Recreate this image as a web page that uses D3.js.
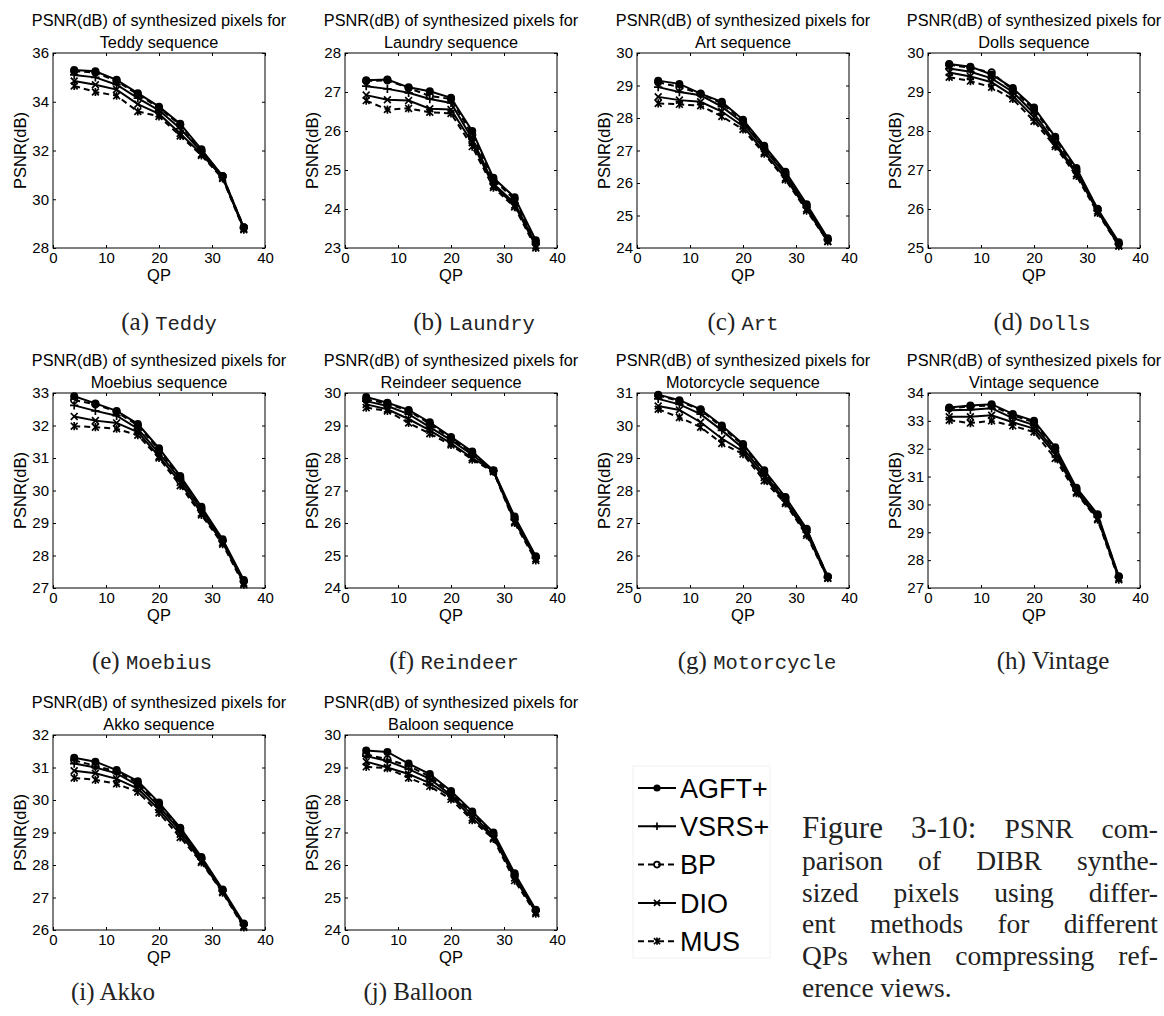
<!DOCTYPE html>
<html><head><meta charset="utf-8">
<script src="https://cdn.jsdelivr.net/npm/d3@7"></script>
<style>body{margin:0;background:#fff}</style>
</head><body><svg id="fig" width="1164" height="1016" xmlns="http://www.w3.org/2000/svg"></svg>
<script>
// ---------- data ----------
const qp = [4, 8, 12, 16, 20, 24, 28, 32, 36];
const xTicks = [0, 10, 20, 30, 40];
const methods = ["AGFT+", "VSRS+", "BP", "DIO", "MUS"];
const titleNames = ["Teddy", "Laundry", "Art", "Dolls", "Moebius", "Reindeer", "Motorcycle", "Vintage", "Akko", "Baloon"];
const captionLabels = ["(a)", "(b)", "(c)", "(d)", "(e)", "(f)", "(g)", "(h)", "(i)", "(j)"];
const captionNames = ["Teddy", "Laundry", "Art", "Dolls", "Moebius", "Reindeer", "Motorcycle", "Vintage", "Akko", "Balloon"];
const captionMono = [true, true, true, true, true, true, true, false, false, false];
const yDomains = [[28, 36], [23, 28], [24, 30], [25, 30], [27, 33], [24, 30], [25, 31], [27, 34], [26, 32], [24, 30]];
const yTickLists = [
  [28, 30, 32, 34, 36], [23, 24, 25, 26, 27, 28], [24, 25, 26, 27, 28, 29, 30], [25, 26, 27, 28, 29, 30],
  [27, 28, 29, 30, 31, 32, 33], [24, 25, 26, 27, 28, 29, 30], [25, 26, 27, 28, 29, 30, 31],
  [27, 28, 29, 30, 31, 32, 33, 34], [26, 27, 28, 29, 30, 31, 32], [24, 25, 26, 27, 28, 29, 30]
];
// series order: AGFT+, VSRS+, BP, DIO, MUS
const teddy = [
  [35.30, 35.25, 34.90, 34.35, 33.80, 33.10, 32.05, 30.95, 28.85],
  [35.10, 35.00, 34.70, 34.15, 33.65, 32.90, 31.95, 30.90, 28.80],
  [35.25, 35.20, 34.85, 34.30, 33.75, 33.05, 32.00, 30.95, 28.85],
  [34.85, 34.70, 34.50, 33.90, 33.50, 32.70, 31.85, 30.90, 28.80],
  [34.65, 34.40, 34.25, 33.60, 33.40, 32.60, 31.80, 30.85, 28.75]
];
const laundry = [
  [27.30, 27.32, 27.12, 27.02, 26.85, 26.00, 24.80, 24.30, 23.20],
  [27.15, 27.08, 26.98, 26.82, 26.72, 25.80, 24.65, 24.15, 23.10],
  [27.28, 27.30, 27.10, 26.90, 26.82, 25.90, 24.75, 24.25, 23.15],
  [26.92, 26.80, 26.78, 26.57, 26.55, 25.70, 24.60, 24.10, 23.05],
  [26.78, 26.55, 26.58, 26.48, 26.45, 25.60, 24.55, 24.05, 23.00]
];
const art = [
  [29.15, 29.05, 28.75, 28.50, 27.95, 27.15, 26.35, 25.35, 24.30],
  [28.95, 28.80, 28.70, 28.35, 27.85, 27.05, 26.25, 25.25, 24.25],
  [29.10, 28.95, 28.75, 28.45, 27.90, 27.10, 26.30, 25.30, 24.25],
  [28.65, 28.55, 28.50, 28.20, 27.75, 26.95, 26.15, 25.20, 24.20],
  [28.45, 28.42, 28.38, 28.05, 27.65, 26.90, 26.10, 25.15, 24.20]
];
const dolls = [
  [29.72, 29.65, 29.45, 29.10, 28.60, 27.85, 27.05, 26.00, 25.15],
  [29.60, 29.52, 29.35, 29.00, 28.45, 27.70, 26.95, 25.95, 25.10],
  [29.70, 29.62, 29.50, 29.05, 28.55, 27.80, 27.00, 26.00, 25.10],
  [29.50, 29.40, 29.25, 28.90, 28.35, 27.65, 26.90, 25.95, 25.05],
  [29.38, 29.28, 29.12, 28.82, 28.25, 27.60, 26.85, 25.90, 25.05]
];
const moebius = [
  [32.90, 32.68, 32.45, 32.05, 31.30, 30.45, 29.50, 28.50, 27.25],
  [32.62, 32.45, 32.30, 31.90, 31.15, 30.35, 29.40, 28.45, 27.20],
  [32.78, 32.65, 32.42, 32.00, 31.25, 30.40, 29.45, 28.45, 27.20],
  [32.28, 32.15, 32.08, 31.80, 31.05, 30.25, 29.30, 28.40, 27.15],
  [31.98, 31.95, 31.90, 31.70, 31.00, 30.15, 29.25, 28.35, 27.10]
];
const reindeer = [
  [29.88, 29.70, 29.48, 29.10, 28.65, 28.20, 27.62, 26.20, 24.98],
  [29.75, 29.60, 29.35, 28.95, 28.55, 28.10, 27.60, 26.10, 24.92],
  [29.80, 29.68, 29.45, 29.05, 28.60, 28.15, 27.60, 26.15, 24.95],
  [29.65, 29.50, 29.20, 28.85, 28.45, 28.00, 27.60, 26.05, 24.90],
  [29.55, 29.45, 29.08, 28.75, 28.40, 27.95, 27.58, 26.00, 24.85]
];
const motorcycle = [
  [30.95, 30.78, 30.50, 30.00, 29.43, 28.62, 27.80, 26.82, 25.35],
  [30.82, 30.65, 30.35, 29.85, 29.30, 28.50, 27.70, 26.72, 25.32],
  [30.92, 30.75, 30.48, 29.95, 29.40, 28.58, 27.78, 26.80, 25.35],
  [30.60, 30.48, 30.10, 29.60, 29.20, 28.40, 27.65, 26.68, 25.30],
  [30.50, 30.25, 29.95, 29.45, 29.12, 28.30, 27.60, 26.62, 25.30]
];
const vintage = [
  [33.48, 33.55, 33.60, 33.25, 33.00, 32.05, 30.60, 29.65, 27.42],
  [33.38, 33.40, 33.45, 33.10, 32.85, 31.90, 30.50, 29.55, 27.38],
  [33.45, 33.52, 33.55, 33.20, 32.95, 32.00, 30.55, 29.60, 27.40],
  [33.15, 33.15, 33.20, 32.95, 32.72, 31.80, 30.45, 29.50, 27.35],
  [33.02, 32.92, 33.00, 32.82, 32.60, 31.65, 30.40, 29.45, 27.30]
];
const akko = [
  [31.30, 31.18, 30.92, 30.58, 29.92, 29.15, 28.25, 27.25, 26.20],
  [31.12, 31.00, 30.82, 30.45, 29.80, 29.05, 28.18, 27.20, 26.15],
  [31.22, 31.05, 30.88, 30.52, 29.88, 29.12, 28.22, 27.22, 26.18],
  [30.90, 30.82, 30.65, 30.35, 29.70, 28.95, 28.12, 27.18, 26.12],
  [30.68, 30.62, 30.50, 30.25, 29.60, 28.85, 28.08, 27.15, 26.08]
];
const balloon = [
  [29.52, 29.48, 29.12, 28.80, 28.28, 27.65, 27.00, 25.75, 24.62],
  [29.35, 29.20, 28.95, 28.65, 28.15, 27.55, 26.90, 25.65, 24.58],
  [29.40, 29.25, 29.05, 28.72, 28.22, 27.60, 26.95, 25.70, 24.60],
  [29.18, 29.00, 28.80, 28.52, 28.10, 27.45, 26.85, 25.60, 24.55],
  [29.02, 28.98, 28.68, 28.42, 28.02, 27.38, 26.80, 25.52, 24.50]
];
const allSeries = [teddy, laundry, art, dolls, moebius, reindeer, motorcycle, vintage, akko, balloon];
const captionLines = [
  [["Figure", "L"], ["3-10:", "L"], ["PSNR", "B"], ["com-", "B"]],
  [["parison", "B"], ["of", "B"], ["DIBR", "B"], ["synthe-", "B"]],
  [["sized", "B"], ["pixels", "B"], ["using", "B"], ["differ-", "B"]],
  [["ent", "B"], ["methods", "B"], ["for", "B"], ["different", "B"]],
  [["QPs", "B"], ["when", "B"], ["compressing", "B"], ["ref-", "B"]],
  [["erence views.", "B"]]
];

// ---------- layout ----------
const svg = d3.select("#fig");
const SANS = "'Liberation Sans', Arial, sans-serif";
const SERIF = "'Liberation Serif', 'Times New Roman', serif";
const MONO = "'Liberation Mono', 'DejaVu Sans Mono', monospace";
const colLeft = [53, 345, 637, 928];
const rowTop = [53, 393, 735];
const rowBottom = [248, 588, 930];
const plotW = 212;
const capBase = [330, 669, 1000];
const capCenters = [169, 474, 743, 1042, 152, 454, 757, 1053, 113, 418];

const lineStyles = [
  { dash: null, marker: "dot" },
  { dash: null, marker: "plus" },
  { dash: "6,4", marker: "circle" },
  { dash: null, marker: "x" },
  { dash: "6,4", marker: "star" }
];

function drawMarker(g, type, cx, cy, s) {
  const k = s || 1;
  if (type === "dot") {
    g.append("circle").attr("cx", cx).attr("cy", cy).attr("r", 4 * k).attr("fill", "#000");
  } else if (type === "circle") {
    g.append("circle").attr("cx", cx).attr("cy", cy).attr("r", 3.3 * k).attr("fill", "none").attr("stroke", "#000").attr("stroke-width", 1.7);
  } else if (type === "plus") {
    const h = 4.2 * k;
    g.append("path").attr("d", `M${cx - h},${cy}H${cx + h}M${cx},${cy - h}V${cy + h}`).attr("stroke", "#000").attr("stroke-width", 1.7);
  } else if (type === "x") {
    const h = 3.4 * k;
    g.append("path").attr("d", `M${cx - h},${cy - h}L${cx + h},${cy + h}M${cx - h},${cy + h}L${cx + h},${cy - h}`).attr("stroke", "#000").attr("stroke-width", 1.7);
  } else if (type === "star") {
    const h = 3.4 * k;
    g.append("path").attr("d", `M${cx - h},${cy - h}L${cx + h},${cy + h}M${cx - h},${cy + h}L${cx + h},${cy - h}M${cx},${cy - h * 1.2}V${cy + h * 1.2}`).attr("stroke", "#000").attr("stroke-width", 1.7);
  }
}

allSeries.forEach((series, i) => {
  const row = Math.floor(i / 4), col = i % 4;
  const left = colLeft[col], right = left + plotW;
  const top = rowTop[row], bottom = rowBottom[row];
  const x = d3.scaleLinear().domain([0, 40]).range([left, right]);
  const y = d3.scaleLinear().domain(yDomains[i]).range([bottom, top]);
  const g = svg.append("g");

  g.append("rect").attr("x", left).attr("y", top).attr("width", plotW).attr("height", bottom - top)
    .attr("fill", "#fff").attr("stroke", "#000").attr("stroke-width", 1);

  const styleAxis = sel => {
    sel.select(".domain").remove();
    sel.selectAll("line").attr("stroke", "#000");
    sel.selectAll("text").attr("font-family", SANS).attr("font-size", 15).attr("fill", "#000");
  };
  const fmt = d3.format("d");
  g.append("g").attr("transform", `translate(0,${bottom})`)
    .call(d3.axisBottom(x).tickValues(xTicks).tickFormat(fmt).tickSize(-3).tickPadding(4)).call(styleAxis);
  g.append("g").attr("transform", `translate(0,${top})`)
    .call(d3.axisTop(x).tickValues(xTicks).tickSize(-3).tickFormat("")).call(styleAxis);
  g.append("g").attr("transform", `translate(${left},0)`)
    .call(d3.axisLeft(y).tickValues(yTickLists[i]).tickFormat(fmt).tickSize(-3).tickPadding(4)).call(styleAxis);
  g.append("g").attr("transform", `translate(${right},0)`)
    .call(d3.axisRight(y).tickValues(yTickLists[i]).tickSize(-3).tickFormat("")).call(styleAxis);

  g.append("text").attr("x", (left + right) / 2).attr("y", bottom + 33).attr("text-anchor", "middle")
    .attr("font-family", SANS).attr("font-size", 16.5).text("QP");
  g.append("text").attr("transform", `translate(${left - 27},${(top + bottom) / 2}) rotate(-90)`)
    .attr("text-anchor", "middle").attr("font-family", SANS).attr("font-size", 16.5).text("PSNR(dB)");
  g.append("text").attr("x", (left + right) / 2).attr("y", top - 27).attr("text-anchor", "middle")
    .attr("font-family", SANS).attr("font-size", 16.3).text("PSNR(dB) of synthesized pixels for");
  g.append("text").attr("x", (left + right) / 2).attr("y", top - 5).attr("text-anchor", "middle")
    .attr("font-family", SANS).attr("font-size", 16.3).text(titleNames[i] + " sequence");

  const line = d3.line().x((d, j) => x(qp[j])).y(d => y(d));
  for (let s = methods.length - 1; s >= 0; s--) {
    const st = lineStyles[s];
    g.append("path").datum(series[s]).attr("d", line).attr("fill", "none").attr("stroke", "#000")
      .attr("stroke-width", 2).attr("stroke-dasharray", st.dash);
    const mg = g.append("g");
    series[s].forEach((v, j) => drawMarker(mg, st.marker, x(qp[j]), y(v)));
  }

  const cap = svg.append("text").attr("x", capCenters[i]).attr("y", capBase[row]).attr("text-anchor", "middle").attr("fill", "#222");
  cap.append("tspan").attr("font-family", SERIF).attr("font-size", 25).text(captionLabels[i] + " ");
  cap.append("tspan").attr("font-family", captionMono[i] ? MONO : SERIF).attr("font-size", captionMono[i] ? 20.5 : 25).text(captionNames[i]);
});

// ---------- legend ----------
const leg = svg.append("g");
leg.append("rect").attr("x", 633).attr("y", 766).attr("width", 137).attr("height", 192)
  .attr("fill", "#fff").attr("stroke", "#f2f2f2").attr("stroke-width", 1);
methods.forEach((m, k) => {
  const cy = 788 + k * 38.3;
  const st = lineStyles[k];
  leg.append("line").attr("x1", 638).attr("x2", 676).attr("y1", cy).attr("y2", cy)
    .attr("stroke", "#000").attr("stroke-width", 2).attr("stroke-dasharray", st.dash);
  drawMarker(leg, st.marker, 657, cy, 0.9);
  leg.append("text").attr("x", 680).attr("y", cy).attr("dy", "0.36em").attr("font-family", SANS)
    .attr("font-size", 27).text(m);
});

// ---------- figure caption (justified) ----------
const capLeft = 802, capRight = 1158, capTop = 838, capStep = 31.8;
const capSize = { L: 31, B: 27.5 };
captionLines.forEach((words, li) => {
  const yb = capTop + li * capStep;
  const nodes = words.map(([w, t]) => svg.append("text").attr("y", yb).attr("font-family", SERIF)
    .attr("font-size", capSize[t]).attr("fill", "#222").text(w));
  const widths = nodes.map(n => n.node().getComputedTextLength());
  const total = d3.sum(widths);
  const gap = words.length > 1 ? (capRight - capLeft - total) / (words.length - 1) : 0;
  let cx = capLeft;
  nodes.forEach((n, k) => { n.attr("x", cx); cx += widths[k] + gap; });
});
</script>
</body></html>
